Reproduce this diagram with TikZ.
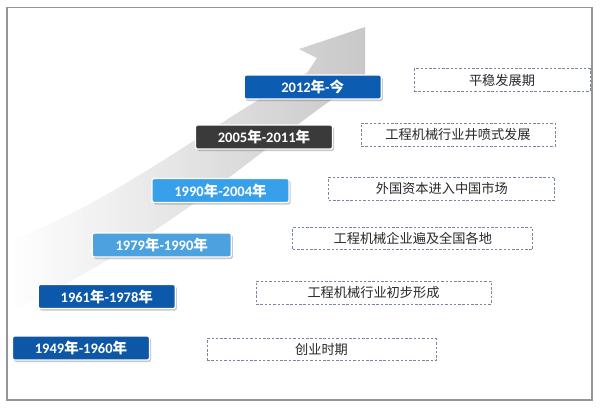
\documentclass[tikz,border=0pt]{standalone}
\usepackage{fontspec}
\setmainfont{Carlito}
\newfontfamily\cjk{Noto Sans CJK SC}
\usetikzlibrary{shadows}
\definecolor{cA}{RGB}{12,92,178}
\definecolor{cB}{RGB}{58,58,58}
\definecolor{cC}{RGB}{56,160,235}
\definecolor{cD}{RGB}{76,162,222}
\definecolor{cE}{RGB}{12,88,170}
\definecolor{cF}{RGB}{14,86,166}
\definecolor{dashc}{RGB}{120,135,160}
\definecolor{txtc}{RGB}{40,40,40}
\definecolor{framec}{RGB}{150,150,150}
\definecolor{arrowc}{RGB}{200,200,200}
\definecolor{arrowm}{RGB}{246,246,246}
\tikzset{
  yearbox/.style={draw=white, line width=1.3pt, rounded corners=2pt,
    minimum width=137pt, minimum height=24pt, inner sep=0pt,
    text=white, font=\bfseries\fontsize{14.5}{16}\selectfont,
    drop shadow={shadow xshift=1.5pt, shadow yshift=-2pt, opacity=0.3, fill=black!70}},
  descbox/.style={draw=dashc, line width=0.9pt, dash pattern=on 2.5pt off 1.8pt,
    inner sep=0pt, text=txtc, font=\cjk\fontsize{13.2}{15}\selectfont}
}
\newcommand{\nian}{{\cjk 年}}
\begin{document}
\begin{tikzpicture}[x=1pt,y=-1pt]
\useasboundingbox (0,0) rectangle (600,410);
\fill[white] (0,0) rectangle (600,410);
\draw[framec, line width=1.2pt] (7,7.5) rectangle (592,400);
% big rising arrow
\shade[left color=white, middle color=arrowm, right color=arrowc]
  (365,27) -- (365,80) .. controls (300,110) and (190,230) .. (8,312)
  -- (8,242) .. controls (120,200) and (230,110) .. (307,73)
  -- (317,58) -- (299,49) -- cycle;
% year boxes
\node[yearbox, fill=cA] (y1) at (312.75,87) {2012\nian-{\cjk 今}};
\node[yearbox, fill=cB] (y2) at (264,137) {2005\nian-2011\nian};
\node[yearbox, fill=cC] (y3) at (220.5,190.5) {1990\nian-2004\nian};
\node[yearbox, fill=cD, minimum width=139pt] (y4) at (161.75,245) {1979\nian-1990\nian};
\node[yearbox, fill=cE] (y5) at (106.8,296.5) {1961\nian-1978\nian};
\node[yearbox, fill=cF] (y6) at (81,348) {1949\nian-1960\nian};
% description boxes
\node[descbox, minimum width=176pt, minimum height=22.5pt] (d1) at (502,80) {平稳发展期};
\node[descbox, minimum width=194pt, minimum height=23pt] (d2) at (458,134.5) {工程机械行业井喷式发展};
\node[descbox, minimum width=226pt, minimum height=23pt] (d3) at (441.8,188.5) {外国资本进入中国市场};
\node[descbox, minimum width=240pt, minimum height=21.7pt] (d4) at (412.8,238.5) {工程机械企业遍及全国各地};
\node[descbox, minimum width=235pt, minimum height=23pt] (d5) at (373.5,292.5) {工程机械行业初步形成};
\node[descbox, minimum width=229pt, minimum height=22pt] (d6) at (321.5,349.8) {创业时期};
\end{tikzpicture}
\end{document}
